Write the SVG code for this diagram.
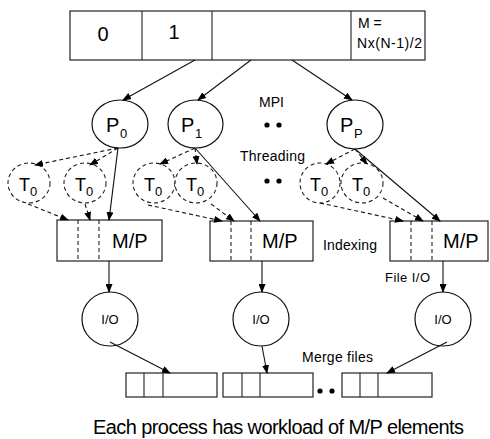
<svg xmlns="http://www.w3.org/2000/svg" width="490" height="439" viewBox="0 0 490 439">
<defs>
<marker id="ah" markerWidth="9" markerHeight="7" refX="8" refY="3.5" orient="auto" markerUnits="userSpaceOnUse">
<path d="M0,0 L9,3.5 L0,7 z" fill="#000"/>
</marker>
<style>
.box{fill:#fff;stroke:#222;stroke-width:1.2}
.ln{stroke:#222;stroke-width:1.1;fill:none}
.dl{stroke:#222;stroke-width:1.1;fill:none;stroke-dasharray:4 3}
.node{fill:#fff;stroke:#111;stroke-width:1.2}
.dnode{fill:#fff;stroke:#222;stroke-width:1.1;stroke-dasharray:4 3}
.a{stroke:#111;stroke-width:1.1;fill:none;marker-end:url(#ah)}
.da{stroke:#111;stroke-width:1.1;fill:none;stroke-dasharray:4 3;marker-end:url(#ah)}
text{font-family:"Liberation Sans",Arial,sans-serif;fill:#000}
.big{font-size:20px}
.sub{font-size:13px}
.tt{font-size:18px}
.lbl{font-size:14px}
.io{font-size:13px}
</style>
</defs>

<g id="array">
<rect class="box" x="70" y="11" width="355" height="49"/>
<line class="ln" x1="142" y1="11" x2="142" y2="60"/>
<line class="ln" x1="212" y1="11" x2="212" y2="60"/>
<line class="ln" x1="351" y1="11" x2="351" y2="60"/>
<text class="big" x="103" y="41" text-anchor="middle">0</text>
<text class="big" x="174" y="39" text-anchor="middle">1</text>
<text x="358" y="28" style="font-size:14px">M =</text>
<text x="357" y="48" style="font-size:14px" textLength="65">Nx(N-1)/2</text>
</g>

<g id="P0">
<ellipse class="node" cx="120" cy="124" rx="28" ry="24"/>
<text class="big" x="106" y="132">P</text><text class="sub" x="120" y="138">0</text>
</g>
<g id="P1">
<ellipse class="node" cx="195.5" cy="124" rx="27.5" ry="24"/>
<text class="big" x="181" y="132">P</text><text class="sub" x="195" y="138">1</text>
</g>
<g id="Pp">
<ellipse class="node" cx="355" cy="124.5" rx="28" ry="24.5"/>
<text class="big" x="340" y="132">P</text><text class="sub" x="354" y="138">P</text>
</g>

<g id="T0a"><ellipse class="dnode" cx="29" cy="183" rx="21" ry="20"/><text class="tt" x="19" y="191">T</text><text class="sub" x="30" y="196">0</text></g>
<g id="T0b"><ellipse class="dnode" cx="85" cy="183" rx="21" ry="20"/><text class="tt" x="75" y="191">T</text><text class="sub" x="86" y="196">0</text></g>
<g id="T0c"><ellipse class="dnode" cx="154" cy="183" rx="21" ry="20"/><text class="tt" x="144" y="191">T</text><text class="sub" x="155" y="196">0</text></g>
<g id="T0d"><ellipse class="dnode" cx="196" cy="183" rx="21" ry="20"/><text class="tt" x="186" y="191">T</text><text class="sub" x="197" y="196">0</text></g>
<g id="T0e"><ellipse class="dnode" cx="320" cy="183" rx="20" ry="20"/><text class="tt" x="310" y="191">T</text><text class="sub" x="321" y="196">0</text></g>
<g id="T0f"><ellipse class="dnode" cx="362" cy="183" rx="21" ry="20"/><text class="tt" x="352" y="191">T</text><text class="sub" x="363" y="196">0</text></g>

<g id="box1">
<rect class="box" x="57" y="220" width="105" height="41"/>
<line class="dl" x1="78" y1="220" x2="78" y2="261"/>
<line class="dl" x1="99" y1="220" x2="99" y2="261"/>
<text class="big" x="112" y="248">M/P</text>
</g>
<g id="box2">
<rect class="box" x="210" y="221" width="103" height="40"/>
<line class="dl" x1="231" y1="221" x2="231" y2="261"/>
<line class="dl" x1="251" y1="221" x2="251" y2="261"/>
<text class="big" x="262" y="248">M/P</text>
</g>
<g id="box3">
<rect class="box" x="390" y="221" width="98" height="40"/>
<line class="dl" x1="411" y1="221" x2="411" y2="261"/>
<line class="dl" x1="432" y1="221" x2="432" y2="261"/>
<text class="big" x="443" y="248">M/P</text>
</g>

<g id="io1"><ellipse class="node" cx="110" cy="319" rx="28" ry="27"/><text class="io" x="110" y="324" text-anchor="middle">I/O</text></g>
<g id="io2"><ellipse class="node" cx="261" cy="319" rx="28" ry="27"/><text class="io" x="261" y="324" text-anchor="middle">I/O</text></g>
<g id="io3"><ellipse class="node" cx="443" cy="319" rx="28" ry="27"/><text class="io" x="443" y="324" text-anchor="middle">I/O</text></g>

<g id="out1">
<rect class="box" x="126" y="373" width="91" height="24"/>
<line class="ln" x1="144" y1="373" x2="144" y2="397"/>
<line class="ln" x1="163" y1="373" x2="163" y2="397"/>
</g>
<g id="out2">
<rect class="box" x="223" y="373" width="90" height="24"/>
<line class="ln" x1="242" y1="373" x2="242" y2="397"/>
<line class="ln" x1="260" y1="373" x2="260" y2="397"/>
</g>
<g id="out3">
<rect class="box" x="342" y="373" width="90" height="24"/>
<line class="ln" x1="360" y1="373" x2="360" y2="397"/>
<line class="ln" x1="378" y1="373" x2="378" y2="397"/>
</g>

<g id="connectors">
<line class="a" x1="195" y1="60" x2="123" y2="100"/>
<line class="a" x1="251" y1="60" x2="198" y2="100"/>
<line class="a" x1="292" y1="60" x2="352" y2="100"/>

<line class="da" x1="118" y1="148" x2="35" y2="165"/>
<line class="da" x1="118" y1="148" x2="90" y2="165"/>
<line class="a" x1="118" y1="148" x2="109" y2="220"/>
<line class="da" x1="195" y1="148" x2="160" y2="164"/>
<line class="da" x1="195" y1="148" x2="197" y2="164"/>
<line class="a" x1="195" y1="148" x2="260" y2="221"/>
<line class="da" x1="355" y1="149" x2="326" y2="164"/>
<line class="da" x1="355" y1="149" x2="367" y2="164"/>
<line class="a" x1="355" y1="149" x2="440" y2="221"/>

<line class="da" x1="28" y1="204" x2="68" y2="220"/>
<line class="da" x1="85" y1="204" x2="90" y2="220"/>
<line class="da" x1="148" y1="205" x2="222" y2="221"/>
<line class="da" x1="211" y1="204" x2="234" y2="221"/>
<line class="da" x1="320" y1="203" x2="403" y2="221"/>
<line class="da" x1="383" y1="198" x2="423" y2="221"/>

<line class="a" x1="109" y1="261" x2="109" y2="292"/>
<line class="a" x1="262" y1="261" x2="262" y2="292"/>
<line class="a" x1="443" y1="261" x2="443" y2="292"/>

<line class="a" x1="110" y1="342" x2="170" y2="373"/>
<line class="a" x1="262" y1="346" x2="267" y2="373"/>
<line class="a" x1="447" y1="342" x2="387" y2="373"/>
</g>

<g id="labels">
<text class="lbl" x="259" y="107">MPI</text>
<circle cx="267" cy="125" r="2.6"/><circle cx="279" cy="125" r="2.6"/>
<text class="lbl" x="240" y="161" textLength="65">Threading</text>
<circle cx="267" cy="181" r="2.6"/><circle cx="279" cy="181" r="2.6"/>
<text class="lbl" x="323" y="250" textLength="54">Indexing</text>
<text x="385" y="282" style="font-size:13px" textLength="45">File I/O</text>
<text class="lbl" x="302" y="362" textLength="71">Merge files</text>
<circle cx="320" cy="391" r="2.6"/><circle cx="332" cy="391" r="2.6"/>
<text x="93" y="434" style="font-size:20px" textLength="371">Each process has workload of M/P elements</text>
</g>
</svg>
